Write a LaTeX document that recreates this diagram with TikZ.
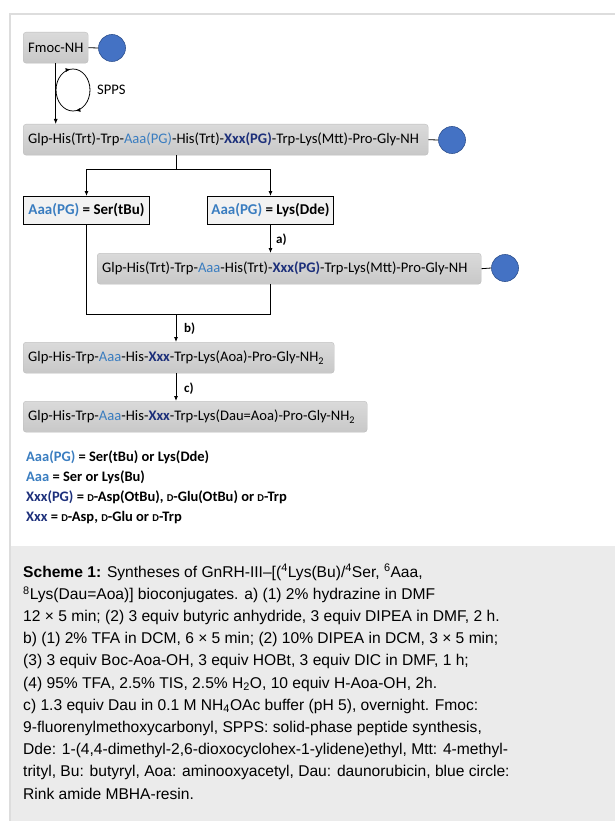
\documentclass[tikz,border=0pt]{standalone}
\usepackage{fontspec}
\setmainfont{Carlito}
\newfontfamily\capfont{Liberation Sans}
\usetikzlibrary{arrows.meta,decorations.markings}
\definecolor{aaablue}{HTML}{3A7DC0}
\definecolor{xxxblue}{HTML}{1C2F7A}
\definecolor{resinfill}{HTML}{4472C4}
\definecolor{resindraw}{HTML}{2F528F}
\definecolor{boxtop}{HTML}{DADADA}
\definecolor{boxbot}{HTML}{C8C8C8}
\definecolor{boxedge}{HTML}{BDBDBD}
\definecolor{wboxfill}{HTML}{F2F2F2}
\definecolor{capbg}{HTML}{EBEBEB}
\definecolor{framec}{HTML}{DDDDDD}
\newcommand{\Aa}[1]{\textcolor{aaablue}{#1}}
\newcommand{\Ab}[1]{\textcolor{aaablue}{\bfseries #1}}
\newcommand{\Xx}[1]{\textcolor{xxxblue}{\bfseries #1}}
\newcommand{\Dsc}{{\fontsize{10.5}{12}\selectfont D}}
\newcommand{\noWrap}[1]{\makebox[\linewidth][l]{#1}}
\begin{document}
\begin{tikzpicture}[x=1pt,y=-1pt,
 gbox/.style={draw=boxedge, top color=boxtop, bottom color=boxbot, rounded corners=3pt, minimum height=31pt, inner xsep=5pt, inner ysep=0pt, align=left, anchor=north west, font=\fontsize{14.6}{18}\selectfont},
 wbox/.style={draw=black, line width=1pt, fill=wboxfill, minimum height=28pt, inner xsep=0pt, inner ysep=0pt, align=center, anchor=north west, font=\bfseries\fontsize{15}{18}\selectfont},
 resin/.style={circle, draw=resindraw, line width=0.6pt, fill=resinfill, minimum size=27pt, inner sep=0pt},
 conn/.style={line width=0.8pt},
 arr/.style={conn, -{Latex[length=5pt,width=4pt]}},
 lab/.style={font=\bfseries\fontsize{13}{15}\selectfont, anchor=west, inner sep=0pt},
 loopmark/.style={decoration={markings, mark=at position 0.23 with {\arrow{Latex[length=5pt,width=4pt]}}, mark=at position 0.73 with {\arrow{Latex[length=5pt,width=4pt]}}}, postaction={decorate}}
]
\useasboundingbox (0,0) rectangle (615,821);
% frame and caption background
\fill[capbg] (10,546) rectangle (615,821);
\draw[framec, line width=1.5pt] (615,14) -- (10,14) -- (10,821);

% Fmoc start
\node[gbox, text width=55pt] (f) at (23,32) {\noWrap{Fmoc-NH}};
\node[resin] (r0) at (112,48) {};
\draw[conn] (f.east) -- (r0.west);

% main box 1
\node[gbox, text width=395pt] (m1) at (23,124) {\noWrap{Glp-His(Trt)-Trp-\Aa{Aaa(PG)}-His(Trt)-\Xx{Xxx(PG)}-Trp-Lys(Mtt)-Pro-Gly-NH}};
\node[resin] (r1) at (452,140) {};
\draw[conn] (m1.east) -- (r1.west);

\draw[arr] (f.south) -- (f.south |- m1.north);
\draw[conn, loopmark] (73,90) ellipse [x radius=17, y radius=21];
\node[anchor=west, inner sep=0pt, font=\fontsize{14.6}{18}\selectfont] (spps) at (97,90) {SPPS};

% branch
\node[wbox, minimum width=126pt] (s1) at (23,196) {\Ab{Aaa(PG)} = Ser(tBu)};
\node[wbox, minimum width=126pt] (s2) at (207,196) {\Ab{Aaa(PG)} = Lys(Dde)};
\coordinate (br) at (176,169);
\draw[conn] (m1.south -| br) -- (br);
\draw[arr] (br) -| (s1.north);
\draw[arr] (br) -| (s2.north);

% box 2
\node[gbox, text width=374pt] (m2) at (97,253) {\noWrap{Glp-His(Trt)-Trp-\Aa{Aaa}-His(Trt)-\Xx{Xxx(PG)}-Trp-Lys(Mtt)-Pro-Gly-NH}};
\node[resin] (r2) at (505,268) {};
\draw[conn] (m2.east) -- (r2.west);
\draw[arr] (s2.south) -- (s2.south |- m2.north);
\node[lab] (la) at (276,240) {a)};

% merge
\coordinate (mg) at (176,314);
\draw[conn] (s1.south) |- (mg);
\draw[conn] (s2.south |- m2.south) |- (mg);

% box 3 and 4
\node[gbox, text width=301pt] (m3) at (23,342) {\noWrap{Glp-His-Trp-\Aa{Aaa}-His-\Xx{Xxx}-Trp-Lys(Aoa)-Pro-Gly-NH\textsubscript{2}}};
\draw[arr] (mg) -- (mg |- m3.north);
\node[lab] (lb) at (184,329) {b)};
\node[gbox, text width=334pt] (m4) at (23,401) {\noWrap{Glp-His-Trp-\Aa{Aaa}-His-\Xx{Xxx}-Trp-Lys(Dau=Aoa)-Pro-Gly-NH\textsubscript{2}}};
\coordinate (c3) at (176,373);
\draw[arr] (c3) -- (c3 |- m4.north);
\node[lab] (lc) at (184,389) {c)};

% legend
\node[anchor=north west, align=left, inner sep=0pt, font=\bfseries\fontsize{14.5}{20}\selectfont] (leg) at (26,451) {\Ab{Aaa(PG)} = Ser(tBu) or Lys(Dde)\\
\Ab{Aaa} = Ser or Lys(Bu)\\
\Xx{Xxx(PG)} = \Dsc-Asp(OtBu), \Dsc-Glu(OtBu) or \Dsc-Trp\\
\Xx{Xxx} = \Dsc-Asp, \Dsc-Glu or \Dsc-Trp};

% caption
\node[anchor=north west, align=left, inner sep=0pt, font=\capfont\fontsize{15.6}{22.2}\selectfont] (cap) at (23,564) {\textbf{Scheme 1:} Syntheses of GnRH-III–[(\textsuperscript{4}Lys(Bu)/\textsuperscript{4}Ser, \textsuperscript{6}Aaa,\\
\textsuperscript{8}Lys(Dau=Aoa)] bioconjugates. a) (1) 2\% hydrazine in DMF\\
12 × 5 min; (2) 3 equiv butyric anhydride, 3 equiv DIPEA in DMF, 2 h.\\
b) (1) 2\% TFA in DCM, 6 × 5 min; (2) 10\% DIPEA in DCM, 3 × 5 min;\\
(3) 3 equiv Boc-Aoa-OH, 3 equiv HOBt, 3 equiv DIC in DMF, 1 h;\\
(4) 95\% TFA, 2.5\% TIS, 2.5\% H\textsubscript{2}O, 10 equiv H-Aoa-OH, 2h.\\
c) 1.3 equiv Dau in 0.1 M NH\textsubscript{4}OAc buffer (pH 5), overnight. Fmoc:\\
9-fluorenylmethoxycarbonyl, SPPS: solid-phase peptide synthesis,\\
Dde: 1-(4,4-dimethyl-2,6-dioxocyclohex-1-ylidene)ethyl, Mtt: 4-methyl-\\
trityl, Bu: butyryl, Aoa: aminooxyacetyl, Dau: daunorubicin, blue circle:\\
Rink amide MBHA-resin.};
\end{tikzpicture}
\end{document}
